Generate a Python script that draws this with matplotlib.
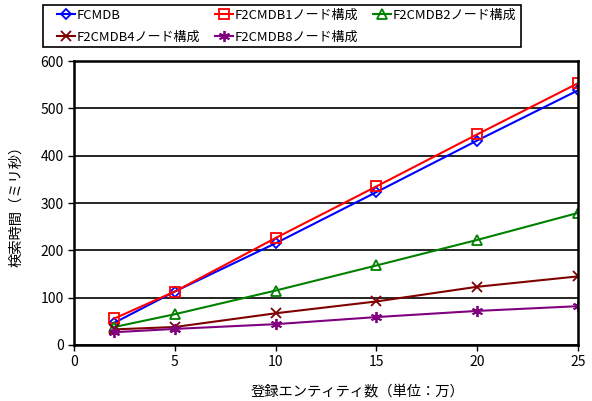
import matplotlib
matplotlib.use("Agg")
import matplotlib.pyplot as plt
from matplotlib.patches import Rectangle

plt.rcParams['font.family'] = ['Noto Sans CJK JP', 'DejaVu Sans']

entities = [2, 5, 10, 15, 20, 25]
fcmdb = [47, 113, 215, 323, 432, 538]
f2_node1 = [56, 113, 226, 335, 445, 553]
f2_node2 = [38, 65, 115, 168, 222, 279]
f2_node4 = [33, 38, 67, 92, 123, 145]
f2_node8 = [27, 34, 44, 59, 72, 82]

series = [
    ("FCMDB", fcmdb, "#0000FF", "D", dict(mfc="none", ms=5, mew=1.3)),
    ("F2CMDB1ノード構成", f2_node1, "#FF0000", "s", dict(mfc="none", ms=7, mew=1.3)),
    ("F2CMDB2ノード構成", f2_node2, "#008000", "^", dict(mfc="none", ms=7, mew=1.3)),
    ("F2CMDB4ノード構成", f2_node4, "#800000", "x", dict(ms=7, mew=1.3)),
    ("F2CMDB8ノード構成", f2_node8, "#800080", (6, 2, 0), dict(ms=8, mew=1.3)),
]

W, H = 592, 401
fig = plt.figure(figsize=(W / 100, H / 100), dpi=100)
ax = fig.add_axes([74 / W, 1 - 345 / H, 504 / W, 284 / H])

handles = {}
for name, vals, color, marker, kw in series:
    h, = ax.plot(entities, vals, color=color, lw=1.5, marker=marker,
                 mec=color, label=name, **kw)
    handles[name] = h

ax.set_xlim(0, 25)
ax.set_ylim(0, 600)
ax.set_xticks([0, 5, 10, 15, 20, 25])
ax.set_yticks(range(0, 601, 100))
ax.yaxis.grid(True, color="black", lw=1.2)
ax.set_axisbelow(True)
for sp in ax.spines.values():
    sp.set_color("black")
    sp.set_linewidth(1.8)
ax.tick_params(axis="both", direction="out", length=4, width=1, labelsize=10,
               colors="black")
ax.set_xlabel("登録エンティティ数（単位：万）", fontsize=10.3)
ax.set_ylabel("検索時間（ミリ秒）", fontsize=10.3)
ax.xaxis.set_label_coords(0.562, -0.141)
ax.yaxis.set_label_coords(-0.101, 0.5)

# legend box
fig.patches.append(Rectangle((43 / W, 1 - 47 / H), 478 / W, 42 / H,
                             transform=fig.transFigure, fill=False,
                             edgecolor="black", lw=1.2))

order = ["FCMDB", "F2CMDB4ノード構成", "F2CMDB1ノード構成",
         "F2CMDB8ノード構成", "F2CMDB2ノード構成"]
leg = fig.legend([handles[n] for n in order], order, ncol=3,
                 loc="upper left", bbox_to_anchor=(53 / W, 1 - 5 / H),
                 fontsize=9.4, frameon=False,
                 handlelength=1.35, handletextpad=0.15, columnspacing=1.15,
                 borderpad=0.3, labelspacing=0.65, borderaxespad=0)

fig.savefig("out.png", dpi=100)
